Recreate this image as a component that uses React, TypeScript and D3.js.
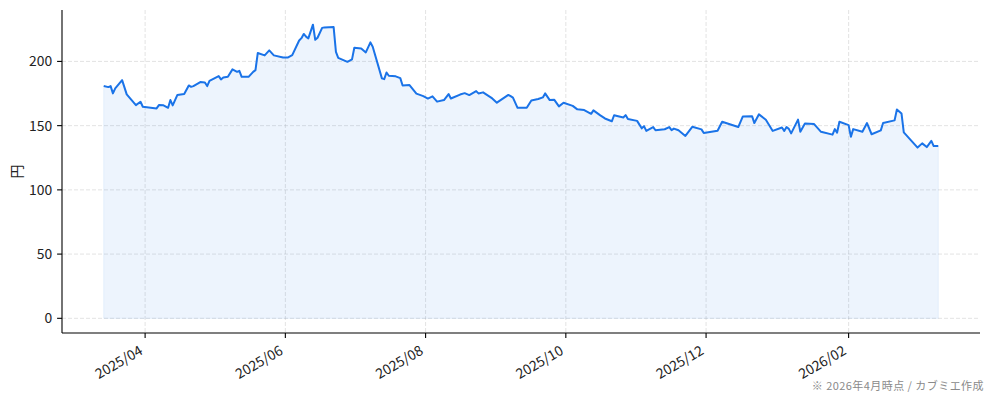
import React, { useEffect, useRef } from 'react';
import * as d3 from 'd3';

// Daily close (円)
const dates: string[] = [
  '2025-03-14', '2025-03-16', '2025-03-17', '2025-03-18', '2025-03-19', '2025-03-22', '2025-03-24', '2025-03-28', '2025-03-30', '2025-03-31',
  '2025-04-06', '2025-04-07', '2025-04-09', '2025-04-11', '2025-04-12', '2025-04-13', '2025-04-15', '2025-04-18', '2025-04-20', '2025-04-21',
  '2025-04-22', '2025-04-25', '2025-04-27', '2025-04-28', '2025-04-29',
  '2025-05-03', '2025-05-04', '2025-05-05', '2025-05-07', '2025-05-09', '2025-05-11', '2025-05-12', '2025-05-13', '2025-05-16', '2025-05-18',
  '2025-05-19', '2025-05-20', '2025-05-23', '2025-05-25', '2025-05-27', '2025-05-31',
  '2025-06-02', '2025-06-04', '2025-06-07', '2025-06-08', '2025-06-09', '2025-06-10', '2025-06-11', '2025-06-13', '2025-06-14', '2025-06-15',
  '2025-06-17', '2025-06-18', '2025-06-22', '2025-06-23', '2025-06-24', '2025-06-28', '2025-06-30',
  '2025-07-01', '2025-07-04', '2025-07-06', '2025-07-08', '2025-07-09', '2025-07-13', '2025-07-14', '2025-07-15', '2025-07-16', '2025-07-19',
  '2025-07-21', '2025-07-22', '2025-07-25', '2025-07-28', '2025-07-31',
  '2025-08-02', '2025-08-04', '2025-08-06', '2025-08-09', '2025-08-11', '2025-08-12', '2025-08-16', '2025-08-18', '2025-08-20', '2025-08-23',
  '2025-08-24', '2025-08-26', '2025-08-30',
  '2025-09-01', '2025-09-06', '2025-09-07', '2025-09-08', '2025-09-10', '2025-09-14', '2025-09-16', '2025-09-19', '2025-09-21', '2025-09-22',
  '2025-09-24', '2025-09-26', '2025-09-28', '2025-09-30',
  '2025-10-04', '2025-10-06', '2025-10-09', '2025-10-12', '2025-10-13', '2025-10-16', '2025-10-18', '2025-10-21', '2025-10-22', '2025-10-26',
  '2025-10-27', '2025-10-28',
  '2025-11-01', '2025-11-03', '2025-11-04', '2025-11-05', '2025-11-08', '2025-11-09', '2025-11-13', '2025-11-15', '2025-11-16', '2025-11-17',
  '2025-11-19', '2025-11-22', '2025-11-25', '2025-11-29', '2025-11-30',
  '2025-12-06', '2025-12-08', '2025-12-15', '2025-12-17', '2025-12-21', '2025-12-22', '2025-12-24', '2025-12-27', '2025-12-30',
  '2026-01-03', '2026-01-04', '2026-01-05', '2026-01-06', '2026-01-07', '2026-01-10', '2026-01-11', '2026-01-13', '2026-01-17', '2026-01-20',
  '2026-01-25', '2026-01-26', '2026-01-27', '2026-01-28',
  '2026-02-01', '2026-02-02', '2026-02-03', '2026-02-07', '2026-02-09', '2026-02-11', '2026-02-15', '2026-02-16', '2026-02-21', '2026-02-22',
  '2026-02-24', '2026-02-25',
  '2026-03-03', '2026-03-05', '2026-03-07', '2026-03-09', '2026-03-10', '2026-03-12',
];

const prices: number[] = [
  180.8, 180.0, 180.8, 175.1, 179.0, 185.4, 174.3, 166.0, 168.6, 164.7,
  163.4, 166.0, 165.8, 163.9, 169.9, 165.8, 173.8, 174.6, 181.3, 180.2,
  180.8, 183.9, 183.6, 180.8, 184.9,
  188.6, 186.0, 187.5, 188.0, 193.8, 191.9, 192.7, 188.0, 188.0, 191.9,
  193.2, 206.5, 204.7, 208.6, 204.7, 203.1,
  203.0, 204.9, 216.3, 218.1, 221.4, 219.3, 217.9, 228.6, 216.8, 218.4,
  226.1, 226.5, 226.7, 207.5, 202.8, 199.7, 201.6,
  210.6, 210.1, 207.0, 214.8, 211.4, 186.8, 186.2, 191.4, 188.8, 188.4,
  187.0, 181.2, 181.6, 174.9, 173.0,
  171.1, 172.8, 168.7, 169.9, 174.6, 171.1, 174.2, 175.3, 173.8, 176.9,
  175.1, 175.9, 171.2,
  167.9, 173.9, 173.0, 171.8, 163.9, 163.9, 169.6, 170.7, 172.0, 175.1,
  169.9, 170.1, 165.0, 167.8,
  165.4, 162.7, 162.1, 159.2, 161.9, 158.0, 155.6, 153.4, 158.1, 156.4,
  158.2, 155.1,
  153.7, 147.9, 149.6, 145.9, 148.9, 146.4, 147.2, 148.9, 146.5, 147.7,
  146.4, 142.0, 149.1, 147.1, 144.2,
  146.0, 153.0, 148.9, 157.2, 157.4, 152.0, 158.8, 154.6, 145.9,
  148.6, 145.9, 148.9, 147.5, 144.0, 154.7, 145.2, 151.6, 151.2, 145.2,
  143.0, 147.3, 144.6, 153.0,
  150.4, 141.3, 147.3, 145.2, 152.0, 143.3, 146.3, 152.0, 154.1, 162.6,
  159.5, 144.8,
  132.9, 136.2, 133.3, 138.1, 134.1, 134.1,
];

const xTickDates: string[] = ['2025-04-01', '2025-06-01', '2025-08-01', '2025-10-01', '2025-12-01', '2026-02-01'];
const yTicks: number[] = [0, 50, 100, 150, 200];

const yLabel = '円';
const footnote = '※ 2026年4月時点 / カブミエ作成';

const WIDTH = 994;
const HEIGHT = 401;
const FONT = '"Noto Sans CJK JP", "Noto Sans", sans-serif';
const LINE_COLOR = '#1a73e8';

const PriceChart: React.FC = () => {
  const svgRef = useRef<SVGSVGElement>(null);

  useEffect(() => {
    if (!svgRef.current) return;
    const svg = d3.select(svgRef.current);
    svg.selectAll('*').remove();

    const parse = d3.timeParse('%Y-%m-%d');
    const points = dates.map((d, i) => ({ date: parse(d) as Date, value: prices[i] }));

    const left = 62, right = 980, top = 10, bottom = 333;

    // matplotlib-like 5% margins
    const [d0, d1] = d3.extent(points, p => p.date) as [Date, Date];
    const span = d1.getTime() - d0.getTime();
    const x = d3.scaleTime()
      .domain([new Date(d0.getTime() - span * 0.05), new Date(d1.getTime() + span * 0.05)])
      .range([left, right]);

    const yMax = d3.max(points, p => p.value) as number;
    const y = d3.scaleLinear()
      .domain([-yMax * 0.05, yMax * 1.05])
      .range([bottom, top]);

    const xTicks = xTickDates.map(d => parse(d) as Date);
    const fmt = d3.timeFormat('%Y/%m');

    // grid
    const grid = svg.append('g');
    grid.selectAll('line.gy')
      .data(yTicks)
      .enter()
      .append('line')
      .attr('x1', left).attr('x2', right)
      .attr('y1', d => y(d)).attr('y2', d => y(d))
      .attr('stroke', '#b0b0b0')
      .attr('stroke-opacity', 0.35)
      .attr('stroke-width', 1)
      .attr('stroke-dasharray', '4,2');
    grid.selectAll('line.gx')
      .data(xTicks)
      .enter()
      .append('line')
      .attr('x1', d => x(d)).attr('x2', d => x(d))
      .attr('y1', top).attr('y2', bottom)
      .attr('stroke', '#b0b0b0')
      .attr('stroke-opacity', 0.35)
      .attr('stroke-width', 1)
      .attr('stroke-dasharray', '4,2');

    // area + line
    const area = d3.area<{ date: Date; value: number }>()
      .x(d => x(d.date))
      .y0(y(0))
      .y1(d => y(d.value));
    svg.append('path')
      .datum(points)
      .attr('d', area)
      .attr('fill', LINE_COLOR)
      .attr('fill-opacity', 0.08)
      .attr('stroke', LINE_COLOR)
      .attr('stroke-opacity', 0.08)
      .attr('stroke-width', 1);

    const line = d3.line<{ date: Date; value: number }>()
      .x(d => x(d.date))
      .y(d => y(d.value));
    svg.append('path')
      .datum(points)
      .attr('d', line)
      .attr('fill', 'none')
      .attr('stroke', LINE_COLOR)
      .attr('stroke-width', 2)
      .attr('stroke-linejoin', 'round');

    // spines
    svg.append('line')
      .attr('x1', left).attr('x2', left)
      .attr('y1', top).attr('y2', bottom)
      .attr('stroke', '#000').attr('stroke-width', 1.1);
    svg.append('line')
      .attr('x1', left).attr('x2', right)
      .attr('y1', bottom).attr('y2', bottom)
      .attr('stroke', '#000').attr('stroke-width', 1.1);

    // y ticks
    const yt = svg.append('g');
    yt.selectAll('line')
      .data(yTicks)
      .enter()
      .append('line')
      .attr('x1', left - 4.9).attr('x2', left)
      .attr('y1', d => y(d)).attr('y2', d => y(d))
      .attr('stroke', '#000').attr('stroke-width', 1.1);
    yt.selectAll('text')
      .data(yTicks)
      .enter()
      .append('text')
      .attr('x', left - 9.8)
      .attr('y', d => y(d))
      .attr('dy', '0.36em')
      .attr('text-anchor', 'end')
      .style('font-family', FONT)
      .style('font-size', '13.9px')
      .style('fill', '#222')
      .text(d => String(d));

    // x ticks
    const xt = svg.append('g');
    xt.selectAll('line')
      .data(xTicks)
      .enter()
      .append('line')
      .attr('x1', d => x(d)).attr('x2', d => x(d))
      .attr('y1', bottom).attr('y2', bottom + 4.9)
      .attr('stroke', '#000').attr('stroke-width', 1.1);
    xt.selectAll('text')
      .data(xTicks)
      .enter()
      .append('text')
      .attr('transform', d => `translate(${x(d) - 1.5},${bottom + 20.5}) rotate(-30)`)
      .attr('text-anchor', 'end')
      .style('font-family', FONT)
      .style('font-size', '13.9px')
      .style('fill', '#222')
      .text(d => fmt(d));

    // y label
    svg.append('text')
      .attr('transform', `translate(17,${(top + bottom) / 2}) rotate(-90)`)
      .attr('text-anchor', 'middle')
      .attr('dy', '0.36em')
      .style('font-family', FONT)
      .style('font-size', '13.9px')
      .style('fill', '#222')
      .text(yLabel);

    // footnote
    svg.append('text')
      .attr('x', 984)
      .attr('y', 389.5)
      .attr('text-anchor', 'end')
      .style('font-family', FONT)
      .style('font-size', '11px')
      .style('letter-spacing', '0.45px')
      .style('fill', '#8a8a8a')
      .text(footnote);
  }, []);

  return (
    <svg
      ref={svgRef}
      width={WIDTH}
      height={HEIGHT}
      style={{ position: 'absolute', left: 0, top: 0, background: '#fff' }}
    />
  );
};

export default function App() {
  return <PriceChart />;
}
